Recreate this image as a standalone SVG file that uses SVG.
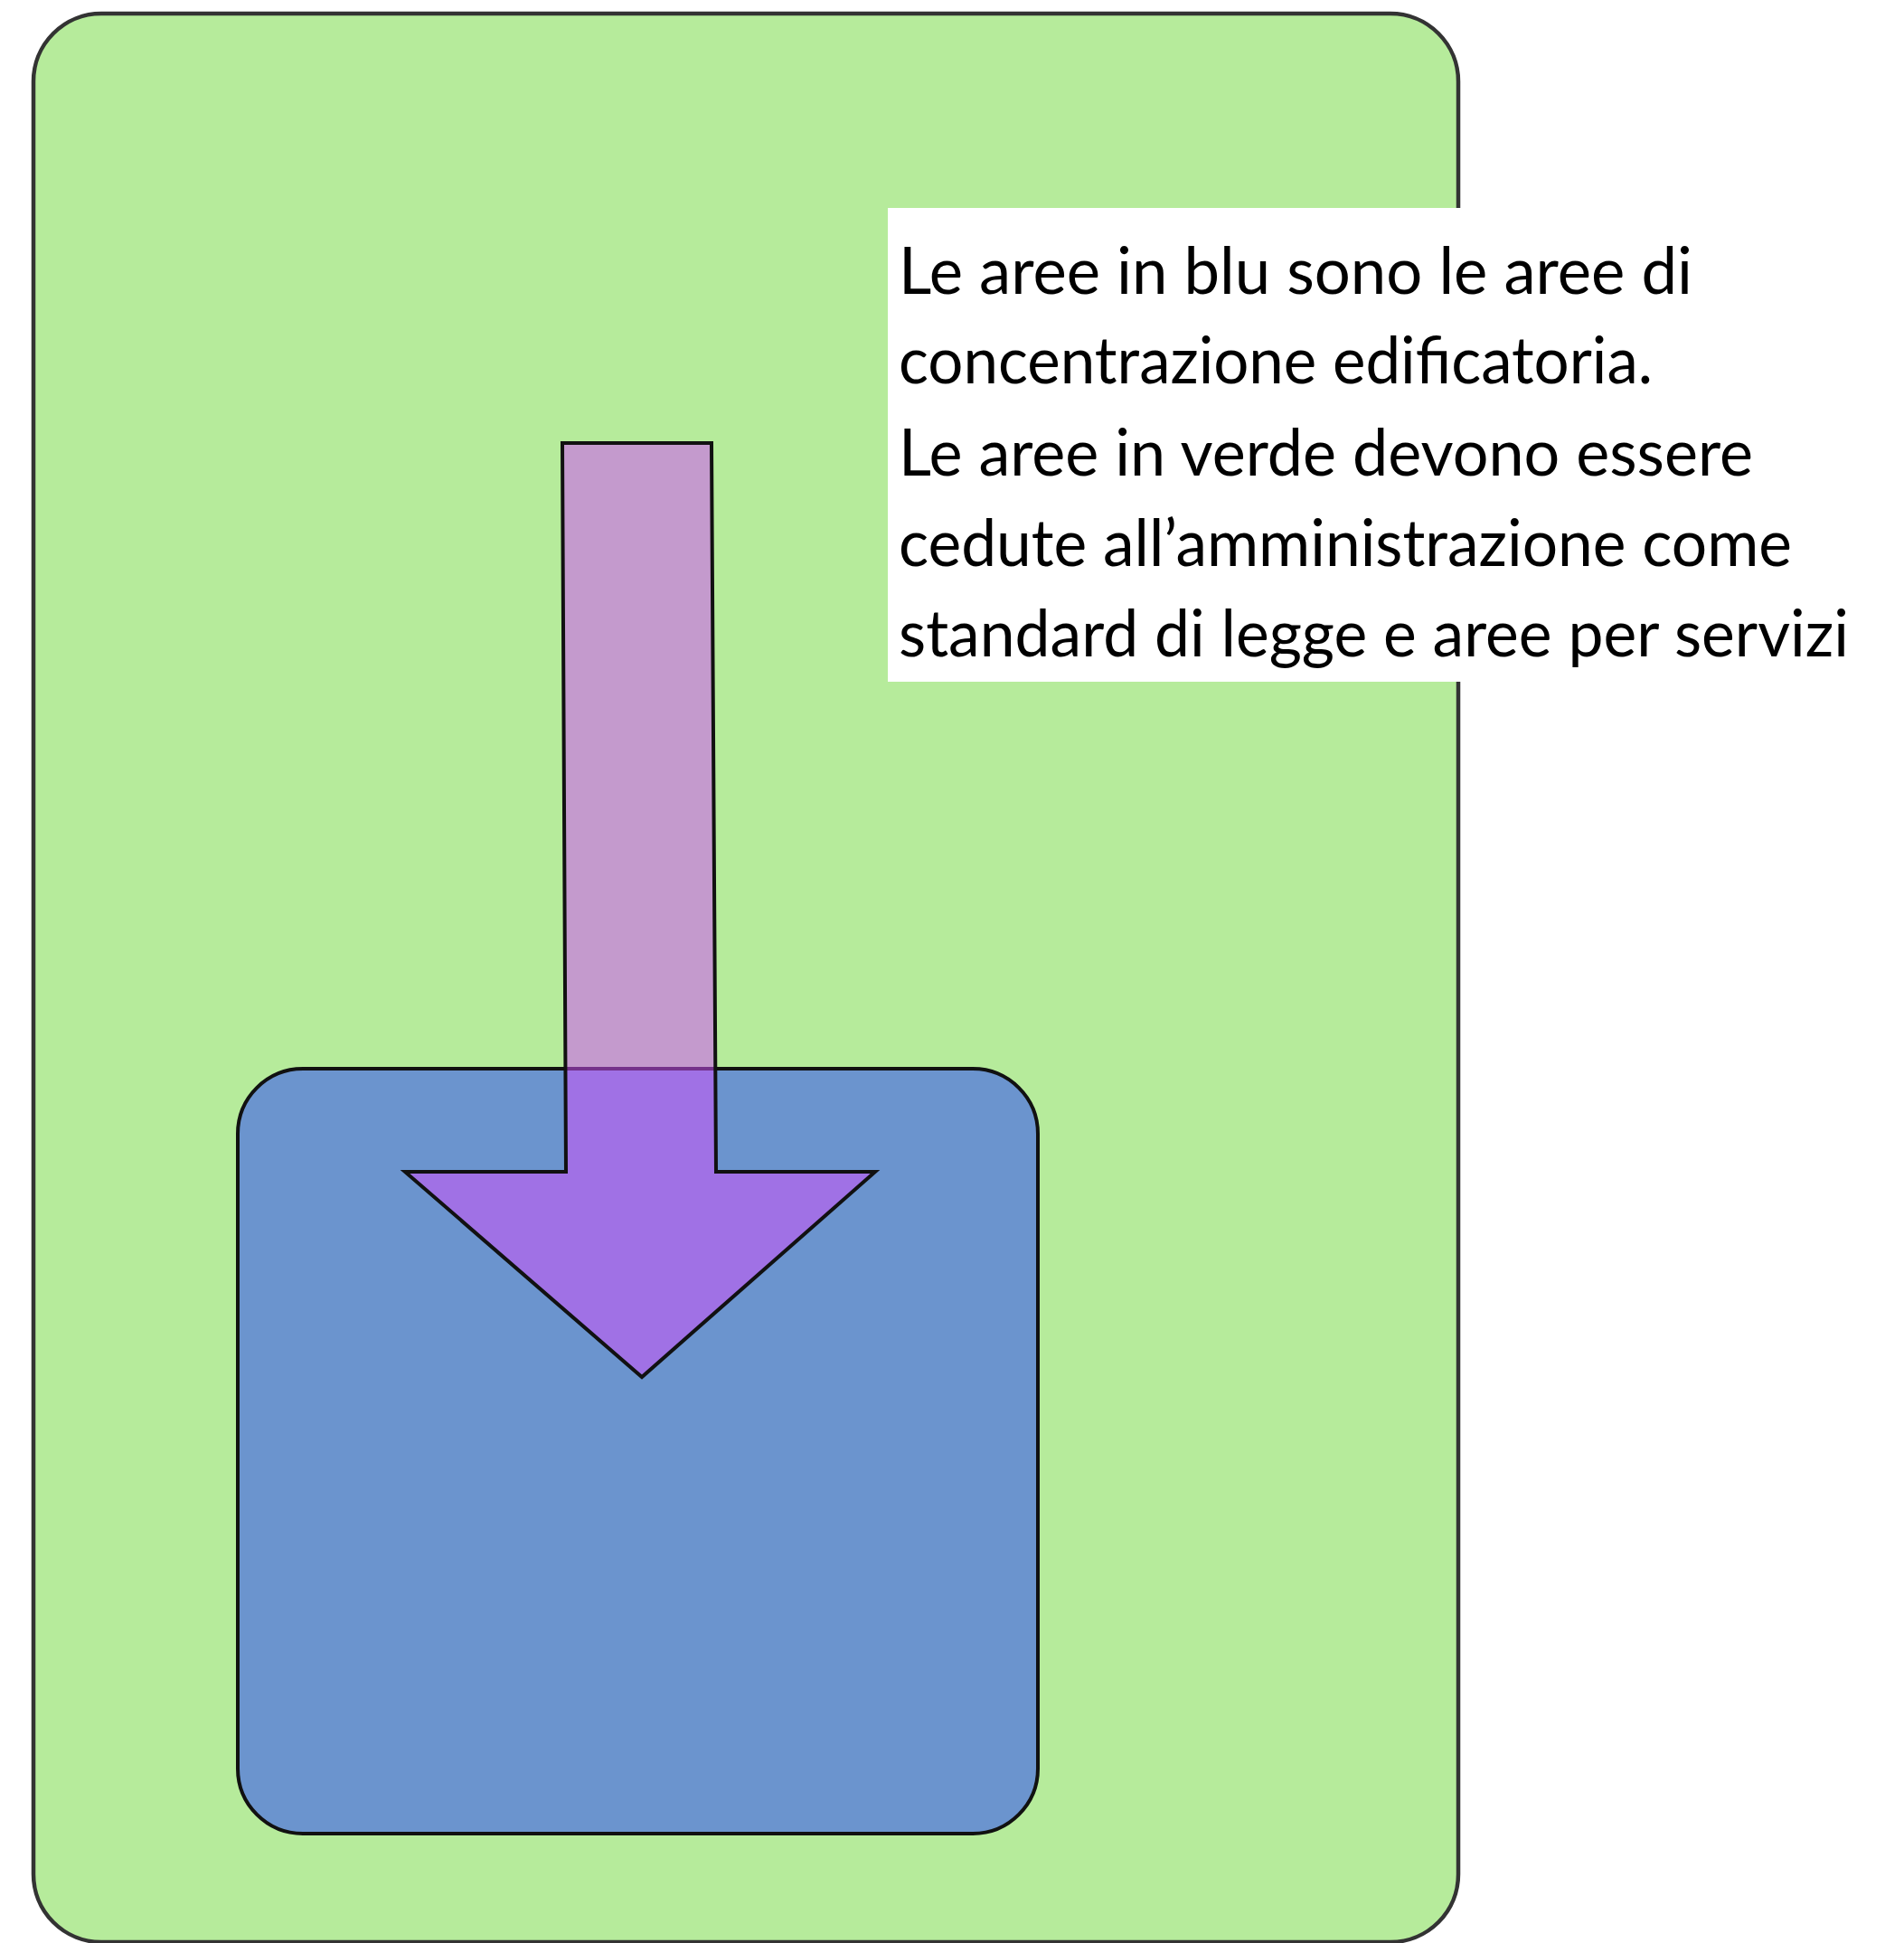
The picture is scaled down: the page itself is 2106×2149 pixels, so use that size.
<svg xmlns="http://www.w3.org/2000/svg" width="2106" height="2149" viewBox="0 0 2106 2149">
  <style>
    .lbl { font-family: Lato, "Open Sans", "Liberation Sans", sans-serif; font-size: 71px; fill: #000000; }
  </style>
  <rect x="0" y="0" width="2106" height="2149" fill="#ffffff"/>
  <g id="green-area">
    <rect x="37" y="15" width="1576" height="2133" rx="75" ry="75" fill="#b6eb9b" stroke="#333333" stroke-width="4.5"/>
  </g>
  <g id="note">
    <rect x="982" y="230" width="1124" height="524" fill="#ffffff"/>
    <text class="lbl" x="994" y="325" textLength="878" lengthAdjust="spacingAndGlyphs">Le aree in blu sono le aree di</text>
    <text class="lbl" x="994" y="424" textLength="834" lengthAdjust="spacingAndGlyphs">concentrazione edificatoria.</text>
    <text class="lbl" x="994" y="526" textLength="945" lengthAdjust="spacingAndGlyphs">Le aree in verde devono essere</text>
    <text class="lbl" x="994" y="626" textLength="988" lengthAdjust="spacingAndGlyphs">cedute all’amministrazione come</text>
    <text class="lbl" x="994" y="726" textLength="1051" lengthAdjust="spacingAndGlyphs">standard di legge e aree per servizi</text>
  </g>
  <g id="blue-area">
    <rect x="263" y="1182" width="885" height="846" rx="72" ry="72" fill="#6b94ce" stroke="#111111" stroke-width="4"/>
  </g>
  <g id="connectors">
    <polygon id="arrow" points="622,490 787,490 792,1296 968,1296 710,1523 448,1296 626,1296" fill="#d151fb" fill-opacity="0.52" stroke="#111111" stroke-width="4" stroke-linejoin="miter"/>
  </g>
</svg>
